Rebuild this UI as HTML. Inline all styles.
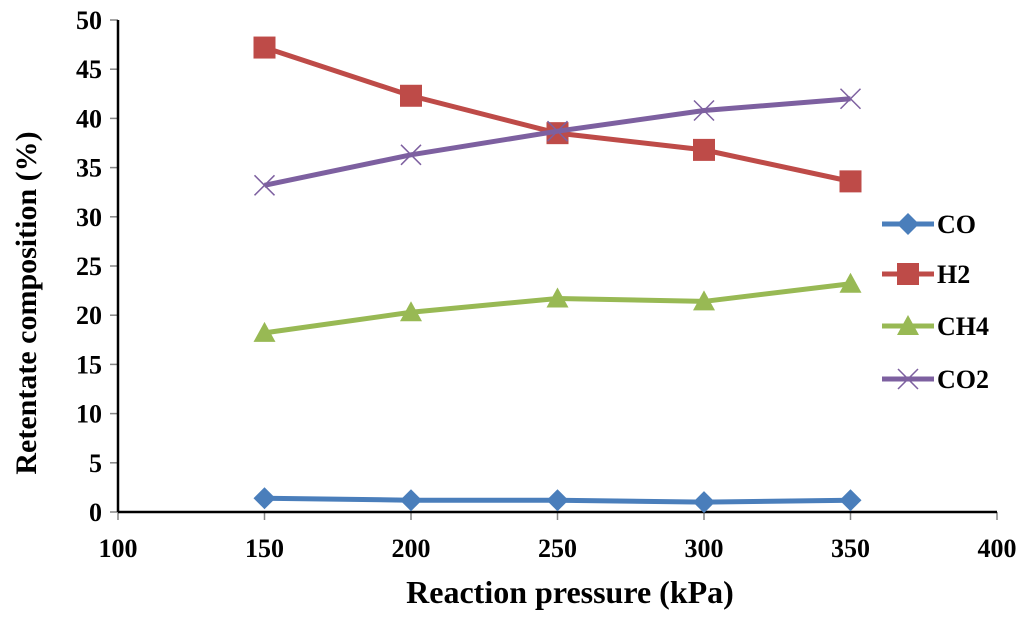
<!DOCTYPE html>
<html><head><meta charset="utf-8"><style>
body{margin:0;background:#fff;}
svg text{font-family:"Liberation Serif",serif;font-weight:bold;}
</style></head><body>
<svg id="chart" width="1024" height="615" xmlns="http://www.w3.org/2000/svg">
<g id="axes"></g><g id="series"></g><g id="legend"></g>
</svg>
<script>
const categories=[150,200,250,300,350];
const coVals=[1.4,1.2,1.2,1.0,1.2];
const h2Vals=[47.2,42.3,38.5,36.8,33.6];
const ch4Vals=[18.2,20.3,21.7,21.4,23.2];
const co2Vals=[33.2,36.3,38.7,40.8,42.0];
const xTicks=[100,150,200,250,300,350,400];
const yTicks=[0,5,10,15,20,25,30,35,40,45,50];
const seriesNames=["CO","H2","CH4","CO2"];

const NS="http://www.w3.org/2000/svg";
const X0=118,X1=997,Y0=512,Y1=20;
const xs=v=>X0+(v-100)/300*(X1-X0);
const ys=v=>Y0-(v/50)*(Y0-Y1);
function mk(tag,attrs,parent,txt){const e=document.createElementNS(NS,tag);for(const k in attrs)e.setAttribute(k,attrs[k]);if(txt!==undefined)e.textContent=txt;parent.appendChild(e);return e;}
const axes=document.getElementById('axes');
let e;
yTicks.forEach(t=>{
 mk('line',{x1:X0-8,y1:ys(t),x2:X0,y2:ys(t),stroke:'#868686','stroke-width':1.5},axes);
 e=mk('text',{x:X0-16,y:ys(t)+9,'text-anchor':'end','font-size':26,fill:'#000'},axes,t);
 
 
});
xTicks.forEach(t=>{
 mk('line',{x1:xs(t),y1:Y0,x2:xs(t),y2:Y0+8,stroke:'#868686','stroke-width':1.5},axes);
 e=mk('text',{x:xs(t),y:Y0+45,'text-anchor':'middle','font-size':26,fill:'#000'},axes,t);
 
 
});
e=mk('line',{x1:X0,y1:Y1,x2:X0,y2:Y0,stroke:'#000','stroke-width':2.5},axes);


e=mk('line',{x1:X0,y1:Y0,x2:X1,y2:Y0,stroke:'#000','stroke-width':2.5},axes);


e=mk('text',{x:570,y:603,'text-anchor':'middle','font-size':32},axes,'Reaction pressure (kPa)');


e=mk('text',{x:0,y:0,'text-anchor':'middle','font-size':30,transform:'translate(36,303) rotate(-90)'},axes,'Retentate composition (%)');



const colors=["#4a7ebb","#be4b48","#98b954","#7d60a0"];
const data=[coVals,h2Vals,ch4Vals,co2Vals];
function marker(i,x,y,g){
 const c=colors[i];
 if(i===0)return mk('polygon',{points:`${x},${y-11} ${x+11},${y} ${x},${y+11} ${x-11},${y}`,fill:c},g);
 if(i===1)return mk('rect',{x:x-11,y:y-11,width:22,height:22,fill:c},g);
 if(i===2)return mk('polygon',{points:`${x},${y-11} ${x+11},${y+9} ${x-11},${y+9}`,fill:c},g);
 return mk('path',{d:`M${x-10},${y-10}L${x+10},${y+10}M${x-10},${y+10}L${x+10},${y-10}`,stroke:c,'stroke-width':1.5,fill:'none'},g);
}
const sg=document.getElementById('series');
data.forEach((vals,i)=>{
 const g=mk('g',{},sg);
 
 
 const pts=vals.map((v,j)=>xs(categories[j])+','+ys(v)).join(' ');
 mk('polyline',{points:pts,fill:'none',stroke:colors[i],'stroke-width':5},g);
 vals.forEach((v,j)=>{
  const m=marker(i,xs(categories[j]),ys(v),g);
  
  
 });
});
const lg=document.getElementById('legend');
const ly=[224,274,326,379];
seriesNames.forEach((n,i)=>{
 const g=mk('g',{},lg);
 
 
 mk('line',{x1:882,y1:ly[i],x2:934,y2:ly[i],stroke:colors[i],'stroke-width':5},g);
 marker(i,908,ly[i],g);
 mk('text',{x:937,y:ly[i]+9,'font-size':26},g,n);
});
</script>
</body></html>
